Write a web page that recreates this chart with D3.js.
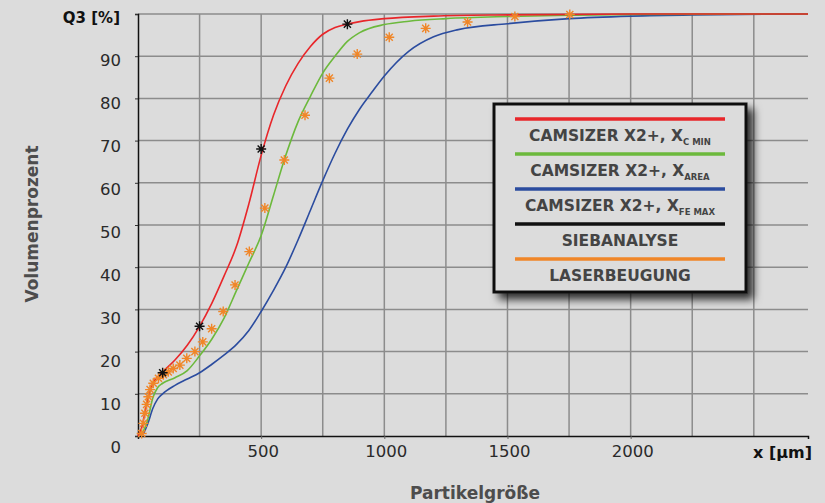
<!DOCTYPE html>
<html>
<head>
<meta charset="utf-8">
<script src="https://cdn.jsdelivr.net/npm/d3@7"></script>
<style>
  body { margin: 0; background: #dcdcdc; }
  svg { display: block; font-family: "DejaVu Sans", sans-serif; }
</style>
</head>
<body>
<div id="showBox"></div>
<script>
// Particle size (um) / cumulative volume (%)
const cMin = [[0,0],[15,2],[30,6],[45,10],[60,12.5],[80,14],[100,15.2],[150,18],[200,21.5],[250,26],[300,31.5],[350,38],[400,45],[450,55],[500,66.5],[550,76],[600,83],[650,88.3],[700,92.3],[750,95.2],[800,96.8],[850,97.6],[900,98.2],[1000,98.9],[1200,99.5],[1500,99.8],[2000,100],[2720,100]]
const area = [[0,0],[20,1],[40,4],[60,9],[80,11.5],[100,12.5],[150,13.8],[200,15.5],[250,19],[300,23],[350,28],[400,34.5],[450,41],[500,47.5],[550,57],[600,66.5],[650,74.5],[700,80.5],[750,86],[800,90],[850,93.5],[900,95.6],[1000,97.5],[1100,98.3],[1250,98.9],[1500,99.4],[1750,99.7],[2000,99.9],[2720,100]]
const feMax = [[0,0],[20,0.5],[40,3],[60,6.5],[80,8.8],[100,10],[150,12],[200,13.5],[250,15],[300,17],[350,19.2],[400,21.7],[450,25],[500,29.5],[550,34.5],[600,40],[650,46.5],[700,53.5],[750,60.5],[800,67],[850,72.7],[900,77.5],[950,81.5],[1000,85.3],[1100,91.2],[1200,94.6],[1300,96.3],[1500,97.7],[1750,98.9],[2000,99.5],[2250,99.8],[2720,100]]
const sieve = [[100,15],[250,26],[500,68],[850,97.6]]
const laser = [[15,0.6],[22,3],[28,5.4],[35,7.5],[42,9.3],[49,11],[62,12.5],[83,13.7],[103,14.5],[123,15.2],[143,16],[170,16.8],[198,18.4],[231,20],[263,22.3],[299,25.4],[346,29.5],[394,35.8],[452,43.7],[515,54],[594,65.4],[678,76],[777,84.8],[890,90.5],[1020,94.5],[1168,96.6],[1338,98.1],[1530,99.4],[1753,99.9]]

const xTicks = [500, 1000, 1500, 2000]
const yTicks = [0, 10, 20, 30, 40, 50, 60, 70, 80, 90]

const legendItems = [
    {main: "CAMSIZER X2+, X", sub: "C MIN", color: "#e8262a"},
    {main: "CAMSIZER X2+, X", sub: "AREA", color: "#6cb93c"},
    {main: "CAMSIZER X2+, X", sub: "FE MAX", color: "#2b4c9f"},
    {main: "SIEBANALYSE", sub: "", color: "#111111"},
    {main: "LASERBEUGUNG", sub: "", color: "#f08628"}
]

const W = 825, H = 503
const x = d3.scaleLinear().domain([0, 2720]).range([138, 808])
const y = d3.scaleLinear().domain([0, 100]).range([436, 14])
const yLab = d3.scaleLinear().domain([0, 90]).range([447.5, 60])

const svg = d3.select("#showBox").append("svg").attr("width", W).attr("height", H)

const defs = svg.append("defs")
const f = defs.append("filter").attr("id", "shadow").attr("x", "-10%").attr("y", "-10%").attr("width", "130%").attr("height", "130%")
f.append("feDropShadow").attr("dx", 6).attr("dy", 6).attr("stdDeviation", 4)
    .attr("flood-color", "#000").attr("flood-opacity", 0.8)

// grid
const grid = svg.append("g").attr("stroke", "#8c8c8c").attr("stroke-width", 1.5)
grid.selectAll("line.v")
    .data(d3.range(250, 2720, 250))
    .join("line")
    .attr("x1", d => x(d)).attr("x2", d => x(d))
    .attr("y1", y(0)).attr("y2", y(100))
grid.selectAll("line.h")
    .data(d3.range(10, 101, 10))
    .join("line")
    .attr("x1", x(0)).attr("x2", x(2720))
    .attr("y1", d => y(d)).attr("y2", d => y(d))

// axes
svg.append("g")
    .attr("transform", `translate(0,${y(0)})`)
    .call(d3.axisBottom(x).tickValues(xTicks).tickSize(3).tickFormat(""))
    .call(g => g.select(".domain").attr("stroke", "#111").attr("stroke-width", 1.5))
    .call(g => g.selectAll(".tick line").attr("stroke", "#666"))

svg.append("g")
    .attr("transform", `translate(${x(0)},0)`)
    .call(d3.axisLeft(y).tickValues(d3.range(0, 101, 10)).tickSize(3).tickFormat(""))
    .call(g => g.select(".domain").attr("stroke", "#111").attr("stroke-width", 1.5))
    .call(g => g.selectAll(".tick line").attr("stroke", "#333"))

// tick labels
svg.append("g")
    .attr("font-size", 16.5).attr("fill", "#2a2a2a").attr("text-anchor", "end")
    .selectAll("text")
    .data(yTicks)
    .join("text")
    .attr("x", 121)
    .attr("y", d => yLab(d))
    .attr("dy", "0.36em")
    .text(d => d)

svg.append("g")
    .attr("font-size", 16.5).attr("fill", "#2a2a2a").attr("text-anchor", "middle")
    .selectAll("text")
    .data(xTicks)
    .join("text")
    .attr("x", d => x(d) + 2)
    .attr("y", 451)
    .attr("dy", "0.36em")
    .text(d => d)

svg.append("text").attr("x", 120).attr("y", 18).attr("dy", "0.35em")
    .attr("text-anchor", "end").attr("font-weight", "bold").attr("font-size", 15).attr("fill", "#111")
    .text("Q3 [%]")
svg.append("text").attr("x", 812).attr("y", 452).attr("dy", "0.35em")
    .attr("text-anchor", "end").attr("font-weight", "bold").attr("font-size", 16).attr("fill", "#111")
    .text("x [µm]")
svg.append("text")
    .attr("transform", "translate(32,224) rotate(-90)")
    .attr("text-anchor", "middle").attr("dy", "0.35em")
    .attr("font-weight", "bold").attr("font-size", 17).attr("fill", "#4d4d4d")
    .text("Volumenprozent")
svg.append("text").attr("x", 475).attr("y", 493).attr("dy", "0.35em")
    .attr("text-anchor", "middle").attr("font-weight", "bold").attr("font-size", 17).attr("fill", "#4d4d4d")
    .text("Partikelgröße")

// curves
const line = d3.line().x(d => x(d[0])).y(d => y(d[1])).curve(d3.curveMonotoneX)
const series = [[feMax, legendItems[2].color], [area, legendItems[1].color], [cMin, legendItems[0].color]]
svg.append("g").attr("fill", "none").attr("stroke-width", 1.6)
    .selectAll("path")
    .data(series)
    .join("path")
    .attr("stroke", d => d[1])
    .attr("d", d => line(d[0]))

// asterisk markers
const star = r => {
    const a = r * 0.7071
    return `M${-r},0L${r},0M0,${-r}L0,${r}M${-a},${-a}L${a},${a}M${-a},${a}L${a},${-a}`
}
svg.append("g").attr("stroke", legendItems[4].color).attr("stroke-width", 1.4)
    .selectAll("path")
    .data(laser)
    .join("path")
    .attr("transform", d => `translate(${x(d[0])},${y(d[1])})`)
    .attr("d", star(5))
svg.append("g").attr("stroke", "#111").attr("stroke-width", 1.4)
    .selectAll("path")
    .data(sieve)
    .join("path")
    .attr("transform", d => `translate(${x(d[0])},${y(d[1])})`)
    .attr("d", star(5))

// legend
const lg = svg.append("g").attr("transform", "translate(494,104)")
lg.append("rect").attr("width", 252).attr("height", 188)
    .attr("fill", "#dcdcdc").attr("stroke", "#111").attr("stroke-width", 3)
    .attr("filter", "url(#shadow)")
const item = lg.selectAll("g.item")
    .data(legendItems)
    .join("g")
    .attr("transform", (d, i) => `translate(0,${15 + i * 35})`)
item.append("line")
    .attr("x1", 21).attr("x2", 231)
    .attr("stroke", d => d.color).attr("stroke-width", 3.5)
const lt = item.append("text")
    .attr("x", 126).attr("y", 17).attr("dy", "0.35em")
    .attr("text-anchor", "middle").attr("font-weight", "bold").attr("font-size", 15.5).attr("fill", "#444")
lt.append("tspan").text(d => d.main)
lt.append("tspan").attr("font-size", 8.5).attr("dy", 4).text(d => d.sub)
</script>
</body>
</html>
